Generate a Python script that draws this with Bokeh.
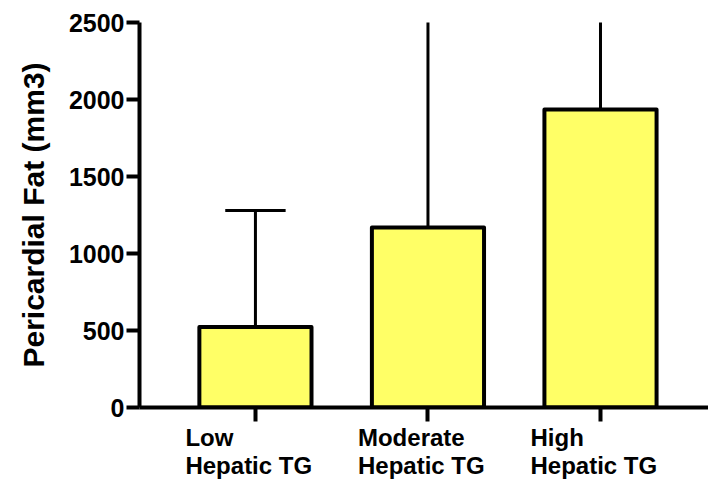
from bokeh.plotting import figure
from bokeh.layouts import column
from bokeh.models import Range1d, FixedTicker, CustomJSTickFormatter, Label
from bokeh.embed import file_html
from bokeh.resources import INLINE

# ---- data ----
group_names = ["Low\nHepatic TG", "Moderate\nHepatic TG", "High\nHepatic TG"]
group_pos = [1, 2, 3]
mean_fat = [523, 1169, 1935]
# upper end of the error bars; Moderate and High run past the top of the axis
upper_fat = [1280, 2550, 2550]
y_ticks = [0, 500, 1000, 1500, 2000, 2500]

# ---- style constants ----
BAR_FILL = "#FFFF66"
CAP_HALF = 0.175
TXT_FONT = "Liberation Sans"

x_rng = Range1d(0.328, 3.626)

p = figure(width=708, height=423, output_backend="svg", toolbar_location=None,
           x_range=x_rng, y_range=Range1d(0, 2500),
           min_border_left=139, min_border_right=0, min_border_top=22,
           min_border_bottom=16)
p.outline_line_color = None
p.grid.visible = False
p.background_fill_color = "white"
p.border_fill_color = "white"

# error bar stems and caps (drawn first so the bars cover the lower part)
p.segment(x0=group_pos, y0=mean_fat, x1=group_pos, y1=upper_fat,
          line_color="black", line_width=3)
p.segment(x0=[g - CAP_HALF for g in group_pos], y0=upper_fat,
          x1=[g + CAP_HALF for g in group_pos], y1=upper_fat,
          line_color="black", line_width=3)

# bars
p.vbar(x=group_pos, top=mean_fat, bottom=0, width=0.65,
       fill_color=BAR_FILL, line_color="black", line_width=4, line_join="round")

# x axis: line and ticks only (names are set underneath)
p.xaxis.ticker = FixedTicker(ticks=group_pos)
p.xaxis.formatter = CustomJSTickFormatter(code="return '';")
p.xaxis.major_label_text_font_size = "1px"
p.xaxis.major_label_standoff = 0
p.xaxis.minor_tick_line_color = None
p.xaxis.axis_line_width = 4
p.xaxis.major_tick_line_width = 4
p.xaxis.major_tick_in = 0
p.xaxis.major_tick_out = 14
p.xaxis.axis_line_color = "black"
p.xaxis.major_tick_line_color = "black"

# y axis
p.yaxis.ticker = FixedTicker(ticks=y_ticks)
p.yaxis.minor_tick_line_color = None
p.yaxis.axis_line_width = 4
p.yaxis.major_tick_line_width = 4
p.yaxis.major_tick_in = 0
p.yaxis.major_tick_out = 13
p.yaxis.axis_line_color = "black"
p.yaxis.major_tick_line_color = "black"
p.yaxis.major_label_text_font = TXT_FONT
p.yaxis.major_label_text_font_style = "bold"
p.yaxis.major_label_text_font_size = "25px"
p.yaxis.major_label_text_color = "black"
p.yaxis.major_label_standoff = 2
p.yaxis.axis_label = "Pericardial Fat (mm3)"
p.yaxis.axis_label_text_font = TXT_FONT
p.yaxis.axis_label_text_font_style = "bold"
p.yaxis.axis_label_text_font_size = "30px"
p.yaxis.axis_label_text_color = "black"
p.yaxis.axis_label_standoff = 16

# strip underneath, sharing the x scale, for the two-line category names
q = figure(width=708, height=59, output_backend="svg", toolbar_location=None,
           x_range=x_rng, y_range=Range1d(0, 1),
           x_axis_location=None, y_axis_location=None,
           min_border_left=139, min_border_right=0, min_border_top=0,
           min_border_bottom=0)
q.outline_line_color = None
q.grid.visible = False
q.background_fill_color = "white"
q.border_fill_color = "white"
for g, name in zip(group_pos, group_names):
    q.add_layout(Label(x=g, y=1, text=name, x_offset=-70, y_offset=0,
                       text_align="left", text_baseline="top",
                       text_font=TXT_FONT, text_font_style="bold",
                       text_font_size="24px", text_color="black",
                       text_line_height=1.05))

layout = column(p, q, spacing=0)
open("out.html", "w").write(file_html(layout, INLINE))
